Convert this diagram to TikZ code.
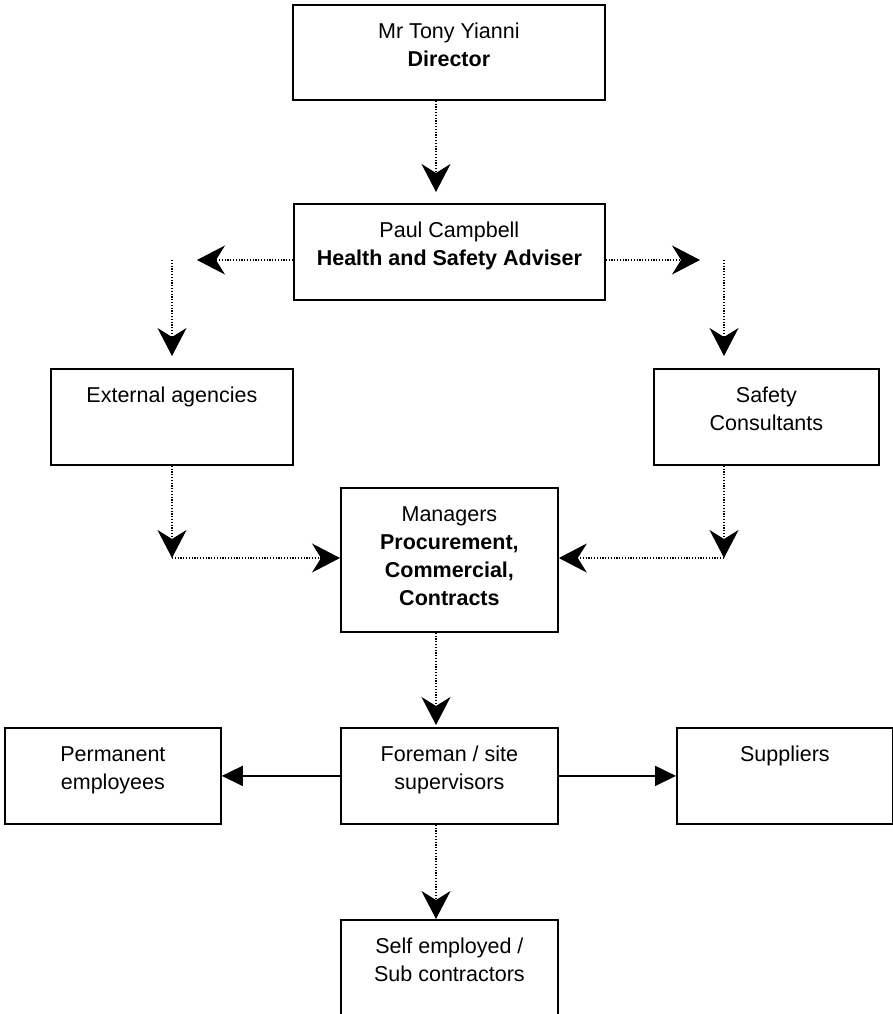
\documentclass[tikz,border=0pt]{standalone}
\usepackage{fontspec}
\setmainfont{Liberation Sans}
\usetikzlibrary{arrows.meta}

% text of a box: width, height, lines (top aligned)
\newcommand{\boxlines}[3]{\parbox[t][#2pt][t]{#1pt}{\centering\rule{0pt}{34pt}#3}}

\begin{document}
\begin{tikzpicture}[x=1pt,y=-1pt,
    orgbox/.style={draw,line width=1.8pt,inner sep=0pt,anchor=north west,font=\fontsize{21.5}{28}\selectfont},
    dotarrow/.style={line width=1.2pt,dash pattern=on 1.2pt off 1.6pt,-{Stealth[length=28pt,width=29pt,inset=9pt]}},
    dotline/.style={line width=1.2pt,dash pattern=on 1.2pt off 1.6pt},
    solidarrow/.style={line width=1.8pt,-{Triangle[length=21pt,width=20pt]}}]

    \useasboundingbox (0,0) rectangle (893,1014);

    %%%%%%%%%%%%%%%%%%%%%%%%%%%%%%%%%%%%%%%%%%%%%%%%%%%%%%

    % columns and rows of the connectors
    \coordinate (mid) at (436,0);
    \coordinate (ltop) at (172,260);
    \coordinate (rtop) at (724,260);
    \coordinate (lbot) at (172,558);
    \coordinate (rbot) at (724,558);

    %%%%%%%%%%%%%%%%%%%%%%%%%%%%%%%%%%%%%%%%%%%%%%%%%%%%%%

    % director
    \node[orgbox] (dir) at (292,4) {\boxlines{312}{95}{Mr Tony Yianni\\\textbf{Director}}};

    % health and safety adviser
    \node[orgbox] (adv) at (293,203) {\boxlines{311}{96}{Paul Campbell\\\textbf{Health and Safety Adviser}}};
    \draw[dotarrow,shorten >=11pt] (dir.south -| mid) to (adv.north -| mid);

    %%%%%%%%%%%%%%%%%%%%%%%%%%%%%%%%%%%%%%%%%%%%%%%%%%%%%%

    % external agencies
    \node[orgbox] (ext) at (50,368) {\boxlines{242}{96}{External agencies}};
    \draw[dotarrow,shorten >=25pt] (adv.west |- ltop) to (ltop);
    \draw[dotarrow,shorten >=12pt] (ltop) to (ext.north -| ltop);

    % safety consultants
    \node[orgbox] (con) at (653,368) {\boxlines{225}{96}{Safety\\Consultants}};
    \draw[dotarrow,shorten >=24pt] (adv.east |- rtop) to (rtop);
    \draw[dotarrow,shorten >=12pt] (rtop) to (con.north -| rtop);

    %%%%%%%%%%%%%%%%%%%%%%%%%%%%%%%%%%%%%%%%%%%%%%%%%%%%%%

    % managers
    \node[orgbox] (mgr) at (340,487) {\boxlines{217}{144}{Managers\\\textbf{Procurement,}\\\textbf{Commercial,}\\\textbf{Contracts}}};
    \draw[dotarrow] (ext.south -| lbot) to (lbot);
    \draw[dotarrow] (lbot) to (mgr.west |- lbot);
    \draw[dotarrow] (con.south -| rbot) to (rbot);
    \draw[dotarrow] (rbot) to (mgr.east |- rbot);

    %%%%%%%%%%%%%%%%%%%%%%%%%%%%%%%%%%%%%%%%%%%%%%%%%%%%%%

    % foreman
    \node[orgbox] (fore) at (340,727) {\boxlines{217}{96}{Foreman / site\\supervisors}};
    \draw[dotarrow,shorten >=2pt] (mgr.south -| mid) to (fore.north -| mid);

    % permanent employees
    \node[orgbox] (perm) at (4,727) {\boxlines{216}{96}{Permanent\\employees}};
    \draw[solidarrow] (fore.west) to (perm.east);

    % suppliers
    \node[orgbox] (sup) at (676,727) {\boxlines{216}{96}{Suppliers}};
    \draw[solidarrow] (fore.east) to (sup.west);

    %%%%%%%%%%%%%%%%%%%%%%%%%%%%%%%%%%%%%%%%%%%%%%%%%%%%%%

    % self employed
    \node[orgbox] (self) at (340,919) {\boxlines{217}{110}{Self employed /\\Sub contractors}};
    \draw[dotarrow] (fore.south -| mid) to (self.north -| mid);

\end{tikzpicture}
\end{document}
